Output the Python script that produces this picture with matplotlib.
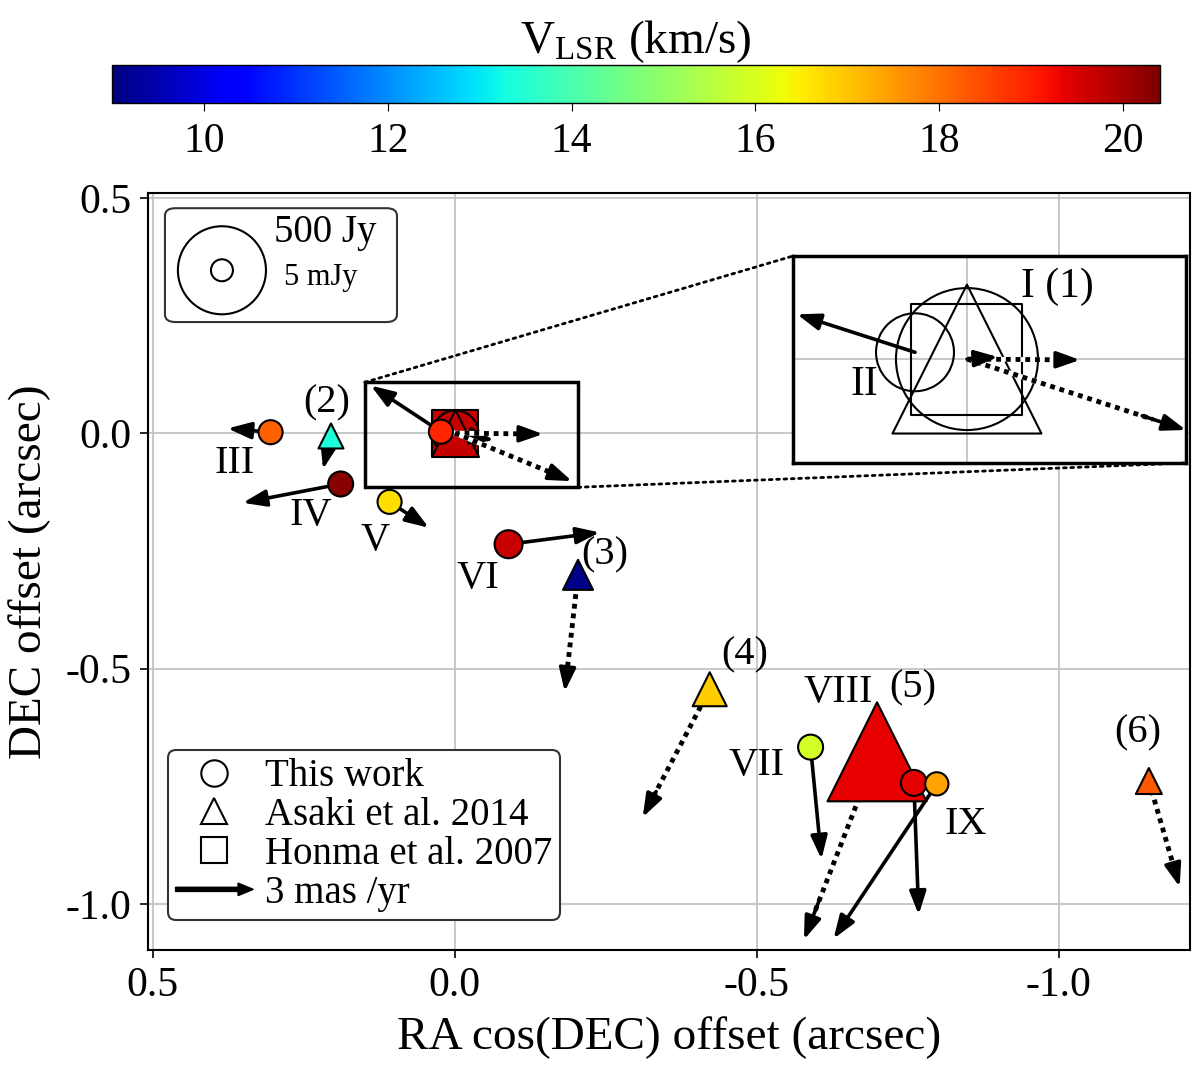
import numpy as np
import matplotlib
matplotlib.use('Agg')
import matplotlib.pyplot as plt
import matplotlib.patches as mpatches
from matplotlib.lines import Line2D
from matplotlib.legend_handler import HandlerPatch
from matplotlib.colors import Normalize
from matplotlib.cm import ScalarMappable
from matplotlib.ticker import FormatStrFormatter

plt.rcParams['font.family'] = ['Liberation Serif', 'DejaVu Serif']
plt.rcParams['mathtext.fontset'] = 'custom'
plt.rcParams['mathtext.rm'] = 'Liberation Serif'
plt.rcParams['axes.unicode_minus'] = False

# this work (circles): offsets (arcsec), proper motion vectors (arcsec on plot), VLSR (km/s)
tw_name = ['I', 'II', 'III', 'IV', 'V', 'VI', 'VII', 'VIII', 'IX']
tw_ra = [0.0, 0.023, 0.305, 0.189, 0.108, -0.089, -0.589, -0.760, -0.798]
tw_dec = [0.0, 0.003, 0.002, -0.108, -0.146, -0.236, -0.667, -0.743, -0.745]
tw_vlsr = [19.7, 18.9, 18.2, 20.3, 16.7, 19.65, 15.9, 19.4, 17.4]
tw_pm_ra = [-0.065, 0.116, 0.071, 0.162, -0.065, -0.151, -0.018, -0.008, 0.171]
tw_pm_dec = [-0.015, 0.098, 0.008, -0.040, -0.055, 0.025, -0.238, -0.280, -0.329]

# Asaki et al. 2014 (triangles)
as_name = ['(1)', '(2)', '(3)', '(4)', '(5)', '(6)']
as_ra = [0.0, 0.205, -0.204, -0.422, -0.699, -1.149]
as_dec = [0.0, -0.006, -0.301, -0.544, -0.677, -0.739]
as_vlsr = [19.7, 13.4, 9.1, 16.9, 19.35, 18.3]
as_pm_ra = [-0.146, 0.013, 0.022, 0.111, 0.121, -0.051]
as_pm_dec = [-0.002, -0.070, -0.248, -0.272, -0.399, -0.225]

# Honma et al. 2007 (square)
ho_ra = [0.0]
ho_dec = [0.0]
ho_vlsr = [19.7]
ho_pm_ra = [-0.194]
ho_pm_dec = [-0.102]

# zoomed panel: vectors of I, II, (1) and Honma
zoom_pm_ra = [-0.0137, 0.0522, -0.050, -0.0969]
zoom_pm_dec = [0.0009, 0.0168, -0.0004, -0.0314]

# marker areas (pt^2) and label places
tw_size = [1100, 300, 300, 324, 300, 406, 324, 350, 280]
as_size = [1145, 324, 467, 600, 5080, 350]
ho_size = [1145]
label_text = ['III', '(2)', 'IV', 'V', 'VI', '(3)', '(4)', 'VIII', '(5)', 'VII', 'IX', '(6)']
label_x = [0.364, 0.212, 0.238, 0.132, -0.038, -0.248, -0.480, -0.634, -0.758, -0.500, -0.846, -1.131]
label_y = [-0.064, 0.064, -0.174, -0.227, -0.308, -0.259, -0.471, -0.550, -0.541, -0.705, -0.832, -0.637]

cmap = plt.get_cmap('jet')
norm = Normalize(9.0, 20.4)

fig = plt.figure(figsize=(12, 10.69), dpi=100)
ax = fig.add_axes([0.1233, 0.1113, 0.8683, 0.7081])

head = '-|>,head_length=1.4,head_width=0.5'


def pm_arrow(a, x, y, dx, dy, dotted):
    if dotted:
        # white line under black dots, solid head at the end
        a.plot([x, x + 0.85 * dx], [y, y + 0.85 * dy], color='white', lw=3.5, zorder=4)
        a.plot([x, x + 0.85 * dx], [y, y + 0.85 * dy], color='k', lw=3.5,
               ls=(0, (1, 1)), zorder=4)
        start = (x + 0.8 * dx, y + 0.8 * dy)
    else:
        start = (x, y)
    a.annotate('', xy=(x + dx, y + dy), xytext=start, annotation_clip=False,
               arrowprops=dict(arrowstyle=head, mutation_scale=10, lw=2.6, color='k',
                               shrinkA=0, shrinkB=0), zorder=4)


# central group sits under the arrows
ax.scatter(ho_ra, ho_dec, s=ho_size, marker='s', c=ho_vlsr, cmap=cmap, norm=norm,
           edgecolors='k', linewidths=1.5, zorder=3)
ax.scatter(tw_ra[:1], tw_dec[:1], s=tw_size[:1], marker='o', c=tw_vlsr[:1], cmap=cmap,
           norm=norm, edgecolors='k', linewidths=1.5, zorder=3.1)
ax.scatter(as_ra[:1], as_dec[:1], s=as_size[:1], marker='^', c=as_vlsr[:1], cmap=cmap,
           norm=norm, edgecolors='k', linewidths=1.5, zorder=3.2)

for i in range(len(tw_ra)):
    pm_arrow(ax, tw_ra[i], tw_dec[i], tw_pm_ra[i], tw_pm_dec[i], False)
for i in range(len(as_ra)):
    pm_arrow(ax, as_ra[i], as_dec[i], as_pm_ra[i], as_pm_dec[i], True)
pm_arrow(ax, ho_ra[0], ho_dec[0], ho_pm_ra[0], ho_pm_dec[0], True)

ax.scatter(as_ra[1:], as_dec[1:], s=as_size[1:], marker='^', c=as_vlsr[1:], cmap=cmap,
           norm=norm, edgecolors='k', linewidths=1.5, zorder=5)
ax.scatter(tw_ra[1:], tw_dec[1:], s=tw_size[1:], marker='o', c=tw_vlsr[1:], cmap=cmap,
           norm=norm, edgecolors='k', linewidths=1.5, zorder=5)

for t, x, y in zip(label_text, label_x, label_y):
    ax.text(x, y, t, fontsize=29, ha='center', va='center', zorder=6)

ax.set_xlim(0.508, -1.217)
ax.set_ylim(-1.098, 0.51)
ax.set_xticks([0.5, 0.0, -0.5, -1.0])
ax.set_yticks([0.5, 0.0, -0.5, -1.0])
ax.xaxis.set_major_formatter(FormatStrFormatter('%.1f'))
ax.yaxis.set_major_formatter(FormatStrFormatter('%.1f'))
ax.grid(color='0.75', lw=1.2)
ax.set_axisbelow(True)
ax.tick_params(labelsize=30, direction='out', length=6, width=1.2, pad=6)
for s in ax.spines.values():
    s.set_linewidth(1.5)
ax.set_xlabel('RA cos(DEC) offset (arcsec)', fontsize=34, labelpad=8)
ax.set_ylabel('DEC offset (arcsec)', fontsize=34, labelpad=10)

# zoom box and connectors
ax.add_patch(mpatches.Rectangle((0.149, -0.115), -0.353, 0.223, fill=False, lw=2.5,
                                ec='k', zorder=4.5))

axin = fig.add_axes([0.6608, 0.5669, 0.3275, 0.1936])
axin.set_xlim(0.077, -0.0969)
axin.set_ylim(-0.046, 0.0456)
axin.set_xticks([0])
axin.set_yticks([0])
axin.tick_params(length=0, labelbottom=False, labelleft=False)
axin.grid(color='0.75', lw=1.2)
axin.set_axisbelow(True)
for s in axin.spines.values():
    s.set_linewidth(2.5)

axin.scatter(tw_ra[:1], tw_dec[:1], s=10450, marker='o', facecolors='none', edgecolors='k', linewidths=1.5)
axin.scatter(tw_ra[1:2], tw_dec[1:2], s=3150, marker='o', facecolors='none', edgecolors='k', linewidths=1.5)
axin.scatter(as_ra[:1], as_dec[:1], s=11500, marker='^', facecolors='none', edgecolors='k', linewidths=1.5)
axin.scatter(ho_ra, ho_dec, s=6390, marker='s', facecolors='none', edgecolors='k', linewidths=1.5)
pm_arrow(axin, as_ra[0], as_dec[0], zoom_pm_ra[2], zoom_pm_dec[2], True)
pm_arrow(axin, ho_ra[0], ho_dec[0], zoom_pm_ra[3], zoom_pm_dec[3], True)
pm_arrow(axin, tw_ra[0], tw_dec[0], zoom_pm_ra[0], zoom_pm_dec[0], False)
pm_arrow(axin, tw_ra[1], tw_dec[1], zoom_pm_ra[1], zoom_pm_dec[1], False)
axin.text(-0.040, 0.032, 'I (1)', fontsize=30, ha='center', va='center')
axin.text(0.0456, -0.0115, 'II', fontsize=30, ha='center', va='center')

for pa, pb in [((0.149, 0.108), (0, 1)), ((-0.204, -0.115), (1, 0))]:
    con = mpatches.ConnectionPatch(xyA=pa, coordsA='data', axesA=ax, xyB=pb,
                                   coordsB='axes fraction', axesB=axin,
                                   ls=':', lw=2, color='k')
    fig.add_artist(con)

# flux scale box
ax.add_patch(mpatches.FancyBboxPatch((0.0163, 0.8296), 0.2227, 0.1504,
                                     boxstyle='round,pad=0,rounding_size=0.01',
                                     transform=ax.transAxes, fc='white', ec='0.2',
                                     lw=1.5, zorder=6))
ax.scatter([0.071], [0.898], s=4020, marker='o', facecolors='none', edgecolors='k',
           linewidths=1.5, transform=ax.transAxes, zorder=7)
ax.scatter([0.071], [0.898], s=250, marker='o', facecolors='none', edgecolors='k',
           linewidths=1.5, transform=ax.transAxes, zorder=7)
ax.text(0.170, 0.9485, '500 Jy', fontsize=28, ha='center', va='center',
        transform=ax.transAxes, zorder=7)
ax.text(0.166, 0.889, '5 mJy', fontsize=22, ha='center', va='center',
        transform=ax.transAxes, zorder=7)


# legend
def make_legend_arrow(legend, orig_handle, xdescent, ydescent, width, height, fontsize):
    return mpatches.FancyArrow(0, 0.5 * height, width, 0, length_includes_head=True,
                               width=3, head_width=9, head_length=11)


handles = [Line2D([], [], marker='o', ls='none', mfc='none', mec='k', ms=19, mew=1.5),
           Line2D([], [], marker='^', ls='none', mfc='none', mec='k', ms=19, mew=1.5),
           Line2D([], [], marker='s', ls='none', mfc='none', mec='k', ms=19, mew=1.5),
           mpatches.FancyArrow(0, 0, 1, 0, fc='k', ec='k')]
labels = ['This work', 'Asaki et al. 2014', 'Honma et al. 2007', '3 mas /yr']
leg = ax.legend(handles, labels, loc='lower left', bbox_to_anchor=(0.019, 0.04),
                borderaxespad=0, fontsize=28, frameon=True, fancybox=True,
                edgecolor='0.2', framealpha=1, handlelength=2.0, handletextpad=0.3,
                labelspacing=0.05, borderpad=0.2,
                handler_map={mpatches.FancyArrow: HandlerPatch(patch_func=make_legend_arrow)})
leg.get_frame().set_linewidth(1.5)
leg.set_zorder(8)

# colorbar
cax = fig.add_axes([0.0933, 0.9036, 0.8733, 0.0355])
cb = fig.colorbar(ScalarMappable(norm=norm, cmap=cmap), cax=cax, orientation='horizontal',
                  ticks=[10, 12, 14, 16, 18, 20])
cb.ax.tick_params(labelsize=30, length=6, pad=8)
cb.outline.set_linewidth(1.0)
cax.set_title(r'$\mathregular{V_{LSR}}$ (km/s)', fontsize=34, pad=8)

fig.savefig('out.png', dpi=100)
